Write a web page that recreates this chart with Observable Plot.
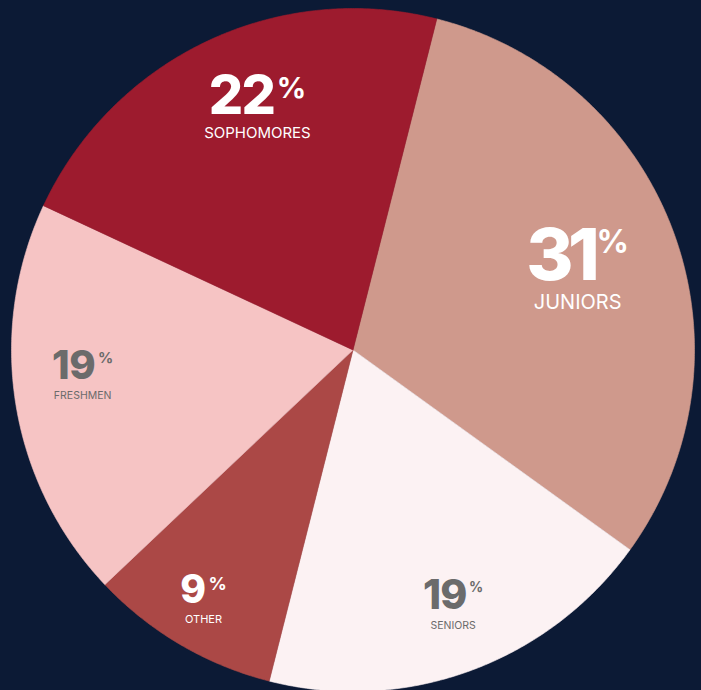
<!DOCTYPE html>
<html><head><meta charset="utf-8">
<script src="https://cdn.jsdelivr.net/npm/d3@7"></script>
<script src="https://cdn.jsdelivr.net/npm/@observablehq/plot@0.6"></script>
<style>
html,body{margin:0;padding:0;background:#0c1a35;}
#chart{width:701px;height:690px;overflow:hidden;}
#chart svg{display:block;}
</style></head><body><div id="chart"></div>
<script>
// ---- data ----
const categories = ["Juniors", "Seniors", "Other", "Freshmen", "Sophomores"];
const labels = ["JUNIORS", "SENIORS", "OTHER", "FRESHMEN", "SOPHOMORES"];
const shares = [31, 19, 9, 19, 22];

// ---- styling ----
const sliceColors = ["#cf998c", "#fcf2f3", "#ab4846", "#f6c4c4", "#9d1b2e"];
const textColors = ["#ffffff", "#6b6b6b", "#ffffff", "#6b6b6b", "#ffffff"];
const labelRadius = [0.70, 0.80, 0.85, 0.795, 0.767];
const labelAngleShift = [0, -1.5, 0.6, 4, 4]; // degrees
const numberSize = [72, 41, 39, 40, 54];
const numberTracking = [-0.08, -0.02, 0, -0.01, -0.03]; // em
const percentSize = [32, 14, 18, 15, 29];
const nameSize = [20, 10.5, 11, 10.5, 15];

const W = 701, H = 690, R = 341.5, CX = 352.5, CY = 349.5;
const startAngle = 14.2 * Math.PI / 180;

const arcs = d3.pie().sort(null).startAngle(startAngle).endAngle(startAngle + 2 * Math.PI)(shares);

// slice outlines (unit circle geometry)
const slicePts = [];
arcs.forEach((a, i) => {
  const n = Math.max(4, Math.ceil((a.endAngle - a.startAngle) / (0.4 * Math.PI / 180)));
  slicePts.push({name: categories[i], color: sliceColors[i], x: 0, y: 0});
  for (let k = 0; k <= n; k++) {
    const t = a.startAngle + (a.endAngle - a.startAngle) * k / n;
    slicePts.push({name: categories[i], color: sliceColors[i], x: Math.sin(t), y: Math.cos(t)});
  }
  slicePts.push({name: categories[i], color: sliceColors[i], x: 0, y: 0});
});

const rows = arcs.map((a, i) => {
  const m = (a.startAngle + a.endAngle) / 2 + labelAngleShift[i] * Math.PI / 180;
  return {name: categories[i], label: labels[i], value: shares[i],
          lx: labelRadius[i] * Math.sin(m), ly: labelRadius[i] * Math.cos(m)};
});

const marks = [
  Plot.line(slicePts, {x: "x", y: "y", z: "name", fill: "color", stroke: "color", strokeWidth: 0.6, curve: "linear"})
];
rows.forEach((d, i) => {
  const gap = nameSize[i] + 9;
  const hb = 0.727 * numberSize[i] + gap;
  marks.push(Plot.text([d], {
    x: "lx", y: "ly", text: r => String(r.value), fill: textColors[i],
    fontSize: numberSize[i], fontWeight: 800, fontFamily: "Inter",
    textAnchor: "middle", lineAnchor: "bottom", dy: hb / 2 - gap
  }));
  marks.push(Plot.text([d], {
    x: "lx", y: "ly", text: "label", fill: textColors[i],
    fontSize: nameSize[i], fontWeight: 400, fontFamily: "Inter",
    textAnchor: "middle", lineAnchor: "bottom", dy: hb / 2
  }));
});

const svg = Plot.plot({
  width: W, height: H, margin: 0,
  x: {domain: [-CX / R, (W - CX) / R], axis: null},
  y: {domain: [-(H - CY) / R, CY / R], axis: null},
  color: {type: "identity"},
  style: {background: "transparent", overflow: "hidden"},
  marks
});

// superscript percent signs on the number labels
const groups = Array.from(svg.children).filter(el => el.tagName.toLowerCase() === "g");
rows.forEach((d, i) => {
  const g = groups[1 + 2 * i];
  const t = g && g.querySelector("text");
  if (!t) return;
  t.setAttribute("letter-spacing", numberTracking[i] * numberSize[i]);
  const ts = document.createElementNS("http://www.w3.org/2000/svg", "tspan");
  ts.setAttribute("font-size", percentSize[i]);
  ts.setAttribute("font-weight", 700);
  ts.setAttribute("letter-spacing", 0);
  ts.setAttribute("dy", -0.727 * (numberSize[i] - percentSize[i]) + 2);
  ts.setAttribute("dx", 2.5);
  ts.textContent = "%";
  t.appendChild(ts);
});

document.getElementById("chart").appendChild(svg);
</script>
</body></html>
